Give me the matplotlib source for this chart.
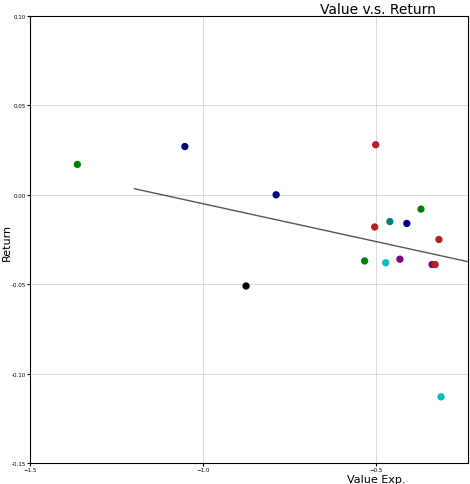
import numpy as np
import matplotlib.pyplot as plt

value_exp = [-1.363, -1.052, -0.788, -0.875, -0.500, -0.503, -0.459, -0.532,
             -0.471, -0.430, -0.410, -0.369, -0.317, -0.337, -0.328, -0.311]
returns = [0.017, 0.027, 0.000, -0.051, 0.028, -0.018, -0.015, -0.037,
           -0.038, -0.036, -0.016, -0.008, -0.025, -0.039, -0.039, -0.113]
colors = ['green', 'navy', 'navy', 'black', 'firebrick', 'firebrick', 'teal', 'green',
          'c', 'purple', 'navy', 'green', 'firebrick', 'purple', 'firebrick', 'c']
fit_x = [-1.198, -0.233]
fit_y = [0.0034, -0.0374]

fig = plt.figure(figsize=(4.70, 4.85), dpi=100)
ax = fig.add_axes([30/470, 21/485, 438/470, 447/485])
ax.scatter(value_exp, returns, c=colors, s=18, zorder=3)
ax.plot(fit_x, fit_y, color='#555555', lw=1)
ax.set_xlim(-1.5, -0.233)
ax.set_ylim(-0.15, 0.10)
ax.set_xticks([-1.5, -1.0, -0.5])
ax.set_yticks([0.10, 0.05, 0.00, -0.05, -0.10, -0.15])
ax.set_yticklabels(['0.10', '0.05', '0.00', '-0.05', '-0.10', '-0.15'])
ax.tick_params(labelsize=4, length=2, pad=1)
ax.grid(True, color='#cccccc', lw=0.5)
fig.text(0.805, 0.972, 'Value v.s. Return', ha='center', fontsize=10)
fig.text(0.80, 0.005, 'Value Exp.', ha='center', fontsize=8)
fig.text(0.003, 0.5, 'Return', va='center', rotation=90, fontsize=8)
fig.savefig('out.png')
